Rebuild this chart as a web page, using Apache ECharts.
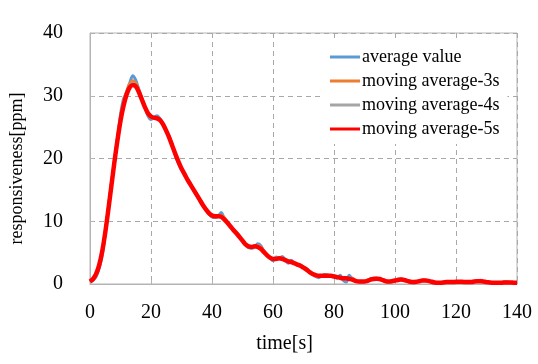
<!DOCTYPE html>
<html>
<head>
<meta charset="utf-8">
<script src="https://cdn.jsdelivr.net/npm/echarts@6/dist/echarts.min.js"></script>
<style>html,body{margin:0;padding:0;background:#fff;}#c{width:538px;height:364px;}</style>
</head>
<body>
<div id="c"></div>
<script>
var time = [];
for (var i = 0; i <= 140; i++) time.push(i);

var avgValue = [0.3,0.6,1.2,2.5,4.5,8,12,16,19.5,23,27,29.5,30.5,32,33.2,32.5,31,29.5,28.2,26.8,
26.2,26.5,26.8,26.3,25.5,24.5,23.5,22,20.5,19.2,18.2,17.5,16.5,15.8,15,14.3,13.5,12.6,11.8,11.2,
10.7,10.6,10.8,11.4,10.5,9.8,9.3,8.6,8.2,7.6,7,6.2,5.8,5.7,5.9,6.4,6.1,5.2,4.6,4.2,
3.7,4.3,4.0,4.4,3.9,3.3,3.8,3.3,3.1,2.9,2.7,2.4,2.0,1.6,1.2,1.0,1.3,1.5,1.4,1.2,
1.3,0.9,1.4,0.6,0.3,1.4,0.8,0.5,0.4,0.3,0.4,0.6,0.8,0.9,0.9,0.8,0.6,0.4,0.3,0.4,
0.6,0.8,0.8,0.7,0.5,0.3,0.2,0.3,0.5,0.6,0.6,0.5,0.3,0.2,0.2,0.2,0.3,0.3,0.3,0.3,
0.4,0.4,0.3,0.3,0.2,0.3,0.4,0.5,0.6,0.4,0.2,0.2,0.2,0.2,0.2,0.2,0.3,0.3,0.2,0.2,0.2];

var ma3 = [0.4,0.7,1.4,2.7,5.0,8.2,12.0,15.8,19.5,23.2,26.5,29.0,30.7,31.9,32.4,32.0,31.0,29.6,28.2,27.1,
26.5,26.5,26.5,26.2,25.4,24.5,23.3,22.0,20.6,19.3,18.3,17.4,16.6,15.8,15.0,14.3,13.5,12.6,11.9,11.2,
10.8,10.7,10.9,10.9,10.6,9.9,9.2,8.7,8.1,7.6,6.9,6.3,5.9,5.8,6.0,6.1,5.9,5.3,4.7,4.2,
4.1,4.0,4.2,4.1,3.9,3.7,3.5,3.4,3.1,2.9,2.7,2.4,2.0,1.6,1.3,1.2,1.3,1.4,1.4,1.3,
1.2,1.2,1.0,0.8,0.8,0.8,0.9,0.6,0.4,0.4,0.4,0.6,0.8,0.9,0.9,0.8,0.6,0.4,0.4,0.4,
0.6,0.7,0.8,0.7,0.5,0.3,0.3,0.3,0.5,0.6,0.6,0.5,0.3,0.2,0.2,0.2,0.3,0.3,0.3,0.3,
0.4,0.4,0.3,0.3,0.3,0.3,0.4,0.5,0.5,0.4,0.3,0.2,0.2,0.2,0.2,0.2,0.3,0.3,0.2,0.2,0.2];

var ma4 = [0.4,0.8,1.5,2.8,5.1,8.2,11.9,15.7,19.4,23.0,26.2,28.7,30.4,31.6,32.0,31.7,30.8,29.5,28.2,27.2,
26.6,26.5,26.4,26.1,25.4,24.4,23.3,22.0,20.7,19.4,18.4,17.5,16.6,15.8,15.0,14.2,13.4,12.6,11.9,11.3,
10.8,10.8,10.8,10.8,10.4,9.8,9.2,8.6,8.1,7.5,6.9,6.3,6.0,5.9,6.0,6.0,5.7,5.2,4.6,4.2,
4.0,4.0,4.1,4.0,3.8,3.6,3.5,3.3,3.1,2.9,2.6,2.3,1.9,1.6,1.4,1.3,1.3,1.3,1.3,1.3,
1.2,1.1,1.0,0.9,0.9,0.8,0.8,0.5,0.4,0.4,0.4,0.5,0.7,0.8,0.85,0.8,0.6,0.45,0.4,0.45,
0.55,0.65,0.7,0.65,0.5,0.35,0.3,0.35,0.45,0.55,0.55,0.5,0.35,0.25,0.2,0.2,0.25,0.3,0.3,0.3,
0.35,0.35,0.35,0.3,0.3,0.3,0.4,0.45,0.45,0.4,0.3,0.25,0.2,0.2,0.2,0.2,0.25,0.25,0.25,0.2,0.2];

var ma5 = [0.4,0.8,1.6,3.0,5.2,8.2,11.8,15.6,19.4,22.9,26.0,28.4,30.2,31.3,31.7,31.5,30.6,29.4,28.2,27.2,
26.7,26.5,26.4,26.1,25.4,24.4,23.3,22.0,20.7,19.5,18.4,17.5,16.6,15.8,15.0,14.2,13.4,12.6,11.9,11.3,
10.9,10.8,10.8,10.7,10.3,9.8,9.2,8.6,8.1,7.5,6.9,6.3,6.0,5.9,6.0,5.9,5.6,5.1,4.6,4.2,
4.0,4.0,4.1,4.0,3.8,3.6,3.5,3.3,3.1,2.9,2.6,2.3,1.9,1.6,1.4,1.3,1.3,1.3,1.3,1.3,
1.2,1.1,1.0,0.9,0.9,0.8,0.7,0.5,0.4,0.4,0.4,0.5,0.7,0.8,0.85,0.8,0.6,0.45,0.4,0.45,
0.55,0.65,0.7,0.65,0.5,0.35,0.3,0.35,0.45,0.55,0.55,0.5,0.35,0.25,0.2,0.2,0.25,0.3,0.3,0.3,
0.35,0.35,0.35,0.3,0.3,0.3,0.4,0.45,0.45,0.4,0.3,0.25,0.2,0.2,0.2,0.2,0.25,0.25,0.25,0.2,0.2];

var seriesNames = ['average value','moving average-3s','moving average-4s','moving average-5s'];
var xTicks = [0,20,40,60,80,100,120,140];
var yTicks = [0,10,20,30,40];

function pairs(arr){ return time.map(function(t,i){ return [t, arr[i]]; }); }

var font = 'Liberation Serif';
var chart = echarts.init(document.getElementById('c'), null, {renderer:'canvas'});
var styles = [
  {color:'#5b9bd5', width:3, z:2},
  {color:'#ed7d31', width:3, z:3},
  {color:'#a5a5a5', width:3, z:4},
  {color:'#ff0000', width:4.5, z:5}
];
var datas = [avgValue, ma3, ma4, ma5];
chart.setOption({
  animation:false,
  backgroundColor:'#fff',
  grid:{left:88, right:21, top:33, bottom:80, show:true, borderColor:'#b4b4b4', borderWidth:1, backgroundColor:'transparent'},
  legend:{
    orient:'vertical', left:322, top:42, data:seriesNames,
    icon:'rect', itemWidth:30, itemHeight:3, itemGap:6,
    backgroundColor:'#fff', padding:[6,8,6,8],
    textStyle:{fontFamily:font, fontSize:18, color:'#000', padding:[0,0,0,-3]},
    z:20
  },
  xAxis:{
    type:'value', min:xTicks[0], max:xTicks[xTicks.length-1], interval:20,
    name:'time[s]', nameLocation:'middle', nameGap:50,
    nameTextStyle:{fontFamily:font, fontSize:20, color:'#000', padding:[0,38,0,0]},
    axisLine:{show:true, lineStyle:{color:'#b4b4b4'}},
    axisTick:{show:true, inside:true, length:4, lineStyle:{color:'#b4b4b4'}},
    axisLabel:{fontFamily:font, fontSize:20, color:'#000', margin:19},
    splitLine:{show:true, lineStyle:{color:'#a8a8a8', type:[5,4], width:1}}
  },
  yAxis:{
    type:'value', min:yTicks[0], max:yTicks[yTicks.length-1], interval:10,
    name:'responsiveness[ppm]', nameLocation:'middle', nameGap:64,
    nameTextStyle:{fontFamily:font, fontSize:18, color:'#000', padding:[0,20,0,0]},
    axisLine:{show:true, lineStyle:{color:'#b4b4b4'}},
    axisTick:{show:true, inside:true, length:4, lineStyle:{color:'#b4b4b4'}},
    axisLabel:{fontFamily:font, fontSize:20, color:'#000', margin:27},
    splitLine:{show:true, lineStyle:{color:'#a8a8a8', type:[5,4], width:1}}
  },
  series: seriesNames.map(function(n,k){
    return {
      name:n, type:'line', data:pairs(datas[k]), showSymbol:false, symbol:'none',
      smooth:0.3, z:styles[k].z,
      lineStyle:{color:styles[k].color, width:styles[k].width},
      itemStyle:{color:styles[k].color}
    };
  })
});
</script>
</body>
</html>
